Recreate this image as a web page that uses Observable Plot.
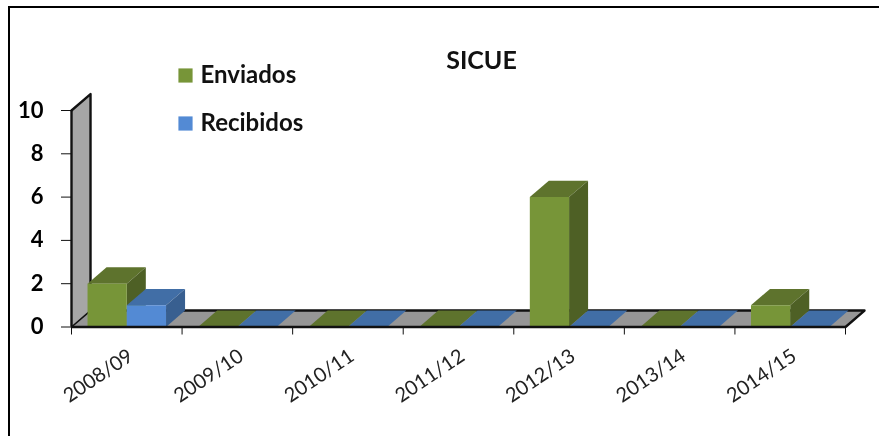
<!DOCTYPE html>
<html><head><meta charset="utf-8">
<script src="https://cdn.jsdelivr.net/npm/d3@7"></script>
<script src="https://cdn.jsdelivr.net/npm/@observablehq/plot@0.6"></script>
<style>
html,body{margin:0;padding:0;background:#fff}
#chart{position:relative;width:879px;height:436px;overflow:hidden}
#chart svg{display:block;font-family:Lato,sans-serif;filter:blur(0.35px)}
#border{position:absolute;left:8px;top:6px;right:0;bottom:0;border-left:2px solid #000;border-top:2.5px solid #000}
</style></head><body><div id="chart"><div id="border"></div></div>
<script>
const title = "SICUE";
const categories = ["2008/09","2009/10","2010/11","2011/12","2012/13","2013/14","2014/15"];
const enviados  = [2,0,0,0,6,0,1];
const recibidos = [1,0,0,0,0,0,0];
const yTicks = [0,2,4,6,8,10];
const green = {name:"Enviados",  front:"#779538", top:"#5e732d", side:"#4e6025"};
const blue  = {name:"Recibidos", front:"#538ad4", top:"#416ea6", side:"#385f90"};

const depthX = 0.172, depthY = 0.76, gap = 0.145, barW = 0.355;
const n = categories.length;

const poly = (pts, fill) => Plot.line([...pts, pts[0]], {x:d=>d[0], y:d=>d[1], fill, stroke:"none", curve:"linear"});
const faces = [];
categories.forEach((c,i)=>{
  [[green,enviados[i],0],[blue,recibidos[i],1]].forEach(([s,v,k])=>{
    const a=i+gap+k*barW, b=a+barW;
    faces.push(poly([[a,v],[b,v],[b+depthX,v+depthY],[a+depthX,v+depthY]], s.top));
    if(v>0){
      faces.push(poly([[b,0],[b+depthX,depthY],[b+depthX,v+depthY],[b,v]], s.side));
      faces.push(poly([[a,0],[b,0],[b,v],[a,v]], s.front));
    }
  });
});
const catIdx = categories.map((c,i)=>i);
const plot = Plot.plot({
  width:879, height:436, margin:0,
  style:{background:"transparent", overflow:"visible"},
  x:{type:"linear", domain:[0,n], range:[71,845], axis:null},
  y:{type:"linear", domain:[0,10], range:[326.5,110], axis:null},
  marks:[
    // wall and floor
    poly([[0,0],[depthX,depthY],[depthX,10+depthY],[0,10]], "#a6a6a6"),
    poly([[0,0],[n,0],[n+depthX,depthY],[depthX,depthY]], "#969696"),
    Plot.line([[0,10],[depthX,10+depthY],[depthX,depthY],[n+depthX,depthY],[n,0]],{x:d=>d[0],y:d=>d[1],stroke:"#111",strokeWidth:2.4}),
    Plot.line([[0,0],[depthX,depthY]],{x:d=>d[0],y:d=>d[1],stroke:"#111",strokeWidth:1.6}),
    ...faces,
    Plot.ruleX([0],{y1:0,y2:10,stroke:"#111",strokeWidth:2.4}),
    Plot.ruleY([0],{x1:0,x2:n,stroke:"#111",strokeWidth:2.6}),
    // axes
    Plot.axisY({ticks:yTicks,x:0,anchor:"left",tickSize:10,tickPadding:18,fontSize:22,fontWeight:700,stroke:"#111",color:"#000",label:null}),
    Plot.axisX({ticks:d3.range(n+1),y:0,tickSize:8,tickFormat:()=>"",label:null,stroke:"#111"}),
    Plot.text(catIdx,{x:d=>d+0.5,y:0,text:d=>categories[d],rotate:-34,textAnchor:"end",dx:4,dy:27,fontSize:20,fill:"#222"}),
    // title and legend
    Plot.text([title],{frameAnchor:"top-left",dx:481,dy:51,textAnchor:"middle",fontSize:25,fontWeight:700,fill:"#111"}),
    Plot.dot([green],{frameAnchor:"top-left",dx:185,dy:75,r:8,symbol:"square",fill:green.front}),
    Plot.dot([blue],{frameAnchor:"top-left",dx:185,dy:123,r:8,symbol:"square",fill:blue.front}),
    Plot.text([green.name],{frameAnchor:"top-left",dx:200,dy:65,textAnchor:"start",fontSize:24,fontWeight:700,fill:"#111"}),
    Plot.text([blue.name],{frameAnchor:"top-left",dx:200,dy:113,textAnchor:"start",fontSize:24,fontWeight:700,fill:"#111"})
  ]
});
document.getElementById("chart").append(plot);
</script></body></html>
